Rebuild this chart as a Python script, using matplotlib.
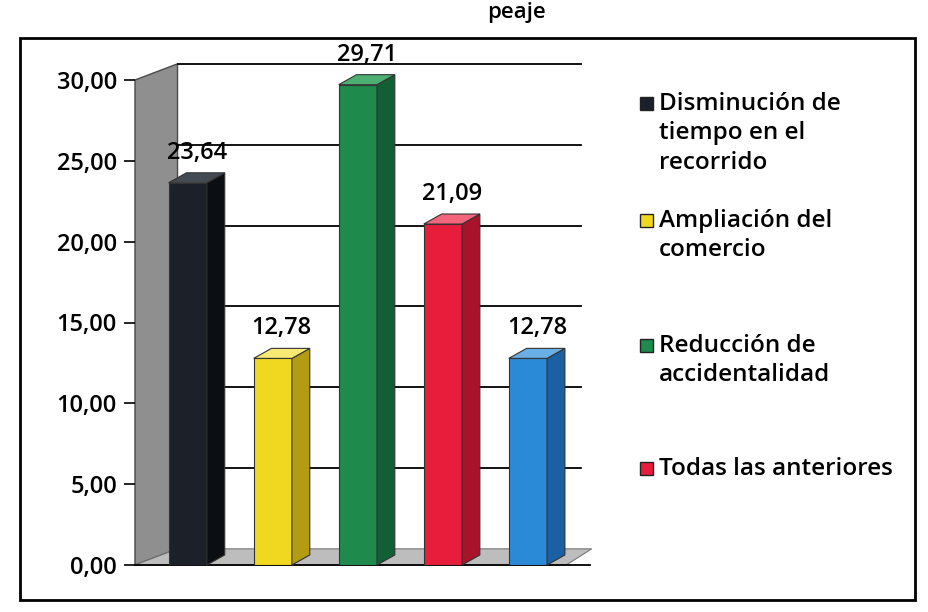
import matplotlib.pyplot as plt
from matplotlib.patches import Polygon, Rectangle

plt.rcParams['font.family'] = ['Open Sans', 'DejaVu Sans']

categorias = ['Disminución de\ntiempo en el\nrecorrido', 'Ampliación del\ncomercio',
              'Reducción de\naccidentalidad', 'Todas las anteriores', '']
valores = [23.64, 12.78, 29.71, 21.09, 12.78]
etiquetas = ['23,64', '12,78', '29,71', '21,09', '12,78']
ticks = [0, 5, 10, 15, 20, 25, 30]
tick_labels = ['0,00', '5,00', '10,00', '15,00', '20,00', '25,00', '30,00']

frente = ['#1c2129', '#f0d820', '#1e8a4c', '#e81d3c', '#2a8ad8']
lado = ['#0b0e12', '#b39c12', '#125f36', '#a8132b', '#1b60a3']
tapa = ['#444a52', '#f7ea74', '#4caf72', '#f2657a', '#6aaee6']

W, H = 929, 612


def fx(x):
    return x / W


def fy(y):
    return 1 - y / H


fig = plt.figure(figsize=(W / 100, H / 100), dpi=100)
ax = fig.add_axes([fx(135), fy(565), 455 / W, 485 / H])
xl, xr = -0.62, 4.73
ax.set_xlim(xl, xr)
ax.set_ylim(0, 30)

# profundidad del efecto 3D
wdx, wdy = 0.5, 1.0
bdx, bdy = 0.21, 0.62
ancho = 0.45

# pared izquierda y piso
ax.add_patch(Polygon([(xl, 0), (xl + wdx, wdy), (xl + wdx, 30 + wdy), (xl, 30)],
                     closed=True, facecolor='#8f8f8f', edgecolor='#4a4a4a', lw=1, zorder=0.5, clip_on=False))
ax.add_patch(Polygon([(xl, 0), (4.45, 0), (4.45 + wdx * 0.6, wdy), (xl + wdx, wdy)],
                     closed=True, facecolor='#bdbdbd', edgecolor='#777777', lw=0.8, zorder=0.6, clip_on=False))

for t in ticks[1:]:
    ax.plot([xl + wdx, 4.62], [t + wdy, t + wdy], color='black', lw=1.3, zorder=1, clip_on=False)

xs = list(range(len(valores)))
ax.bar(xs, valores, width=ancho, color=frente, edgecolor='#333333', linewidth=0.8, zorder=3)
for x, v, cl, ct, lab in zip(xs, valores, lado, tapa, etiquetas):
    r = x + ancho / 2
    l = x - ancho / 2
    ax.add_patch(Polygon([(r, 0), (r + bdx, bdy), (r + bdx, v + bdy), (r, v)], closed=True,
                         facecolor=cl, edgecolor='#333333', lw=0.8, zorder=3, clip_on=False))
    ax.add_patch(Polygon([(l, v), (r, v), (r + bdx, v + bdy), (l + bdx, v + bdy)], closed=True,
                         facecolor=ct, edgecolor='#333333', lw=0.8, zorder=3, clip_on=False))
    ax.text(x + bdx / 2, v + bdy + 0.5, lab, ha='center', va='bottom', fontsize=17,
            fontweight='semibold', zorder=4)

ax.set_yticks(ticks)
ax.set_yticklabels(tick_labels, fontsize=17, fontweight='semibold')
ax.set_xticks([])
ax.tick_params(axis='y', direction='out', length=8, width=1.2, pad=5)
for s in ['top', 'right', 'left']:
    ax.spines[s].set_visible(False)
ax.spines['bottom'].set_linewidth(1.3)
ax.patch.set_visible(False)

# leyenda
ley_y = [103, 220, 345, 468]
for cat, c, y in zip(categorias[:4], frente, ley_y):
    fig.patches.append(Rectangle((fx(640), fy(y + 7)), 13 / W, 13 / H, transform=fig.transFigure,
                                 facecolor=c, edgecolor='#222222', lw=1))
    fig.text(fx(659), fy(y - 11), cat, ha='left', va='top', fontsize=17.5, linespacing=1.3,
             fontweight='semibold')

# marco exterior
fig.patches.append(Rectangle((fx(20), fy(600)), (915 - 20) / W, (600 - 38) / H, transform=fig.transFigure,
                             fill=False, edgecolor='black', lw=2))
fig.text(fx(517), fy(2), 'peaje', ha='center', va='top', fontsize=16, fontweight='semibold')

fig.savefig('out.png', dpi=100, facecolor='white')
